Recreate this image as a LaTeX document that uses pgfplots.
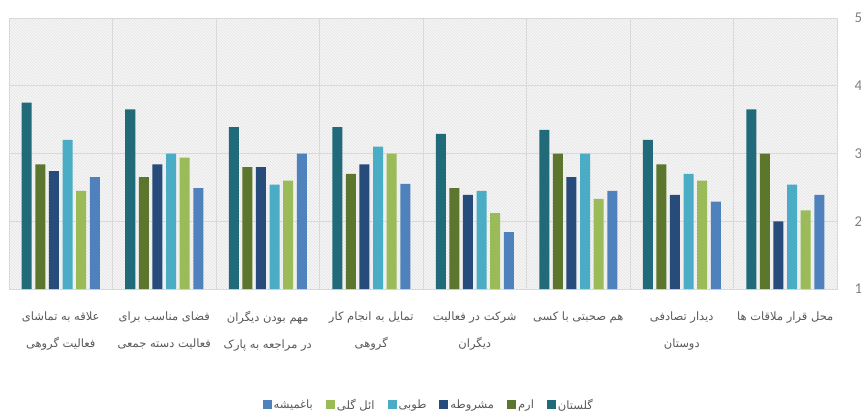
\documentclass[border=0pt]{standalone}
\usepackage{fontspec}
\setmainfont{Carlito}
\newfontfamily\arabicfont[Script=Arabic]{DejaVu Sans}
\TeXXeTstate=1
\usepackage{pgfplots}
\pgfplotsset{compat=1.18}
\usetikzlibrary{patterns}
\definecolor{cGol}{HTML}{216A7A}
\definecolor{cEram}{HTML}{5C772D}
\definecolor{cMash}{HTML}{274B7A}
\definecolor{cTuba}{HTML}{4BACC6}
\definecolor{cEl}{HTML}{9BBB59}
\definecolor{cBagh}{HTML}{4F81BD}
\definecolor{txt}{HTML}{595959}
\definecolor{gridc}{HTML}{D9D9D9}
\begin{document}
\begin{tikzpicture}
\begin{axis}[
  name=main,
  scale only axis, width=828pt, height=271pt,
  ymin=1, ymax=5, ytick={1,2,3,4,5},
  xmin=0.5, xmax=8.5,
  xtick={1,...,8},
  xticklabels={
    {{\arabicfont\beginR علاقه به تماشای\endR}\\{\arabicfont\beginR فعالیت گروهی\endR}},
    {{\arabicfont\beginR فضای مناسب برای\endR}\\{\arabicfont\beginR فعالیت دسته جمعی\endR}},
    {{\arabicfont\beginR مهم بودن دیگران\endR}\\{\arabicfont\beginR در مراجعه به پارک\endR}},
    {{\arabicfont\beginR تمایل به انجام کار\endR}\\{\arabicfont\beginR گروهی\endR}},
    {{\arabicfont\beginR شرکت در فعالیت\endR}\\{\arabicfont\beginR دیگران\endR}},
    {{\arabicfont\beginR هم صحبتی با کسی\endR}},
    {{\arabicfont\beginR دیدار تصادفی\endR}\\{\arabicfont\beginR دوستان\endR}},
    {{\arabicfont\beginR محل قرار ملاقات ها\endR}}
  },
  minor xtick={0.5,1.5,...,8.5},
  xminorgrids, ymajorgrids,
  grid style={gridc, line width=0.6pt},
  minor grid style={gridc, line width=0.6pt},
  major tick length=0pt, minor tick length=0pt,
  axis line style={gridc},
  yticklabel pos=right,
  /pgf/number format/assume math mode=true,
  yticklabel style={font=\fontsize{15}{15}\selectfont, text=gray, xshift=14pt},
  xticklabel style={align=center, font=\fontsize{11.5}{27}\selectfont, text=txt, yshift=-19pt},
  ybar=3.6pt, bar width=10pt,
  axis background/.style={fill=gray!7, postaction={pattern=north west lines, pattern color=gray!22}},
  reverse legend,
  legend columns=-1,
  legend style={at={(0.507,-0.428)}, anchor=center, draw=none, fill=none,
    font=\fontsize{11.5}{12}\selectfont, text=txt,
    /tikz/every even column/.append style={column sep=11pt}},
  legend image code/.code={\fill[#1] (0pt,-4pt) rectangle (9pt,5pt);},
]
\addplot[fill=cGol, draw=none] coordinates {(1,3.75) (2,3.65) (3,3.39) (4,3.39) (5,3.29) (6,3.35) (7,3.20) (8,3.65)};
\addplot[fill=cEram, draw=none] coordinates {(1,2.84) (2,2.65) (3,2.80) (4,2.70) (5,2.49) (6,3.00) (7,2.84) (8,3.00)};
\addplot[fill=cMash, draw=none] coordinates {(1,2.74) (2,2.84) (3,2.80) (4,2.84) (5,2.39) (6,2.65) (7,2.39) (8,2.00)};
\addplot[fill=cTuba, draw=none] coordinates {(1,3.20) (2,3.00) (3,2.54) (4,3.10) (5,2.45) (6,3.00) (7,2.70) (8,2.54)};
\addplot[fill=cEl, draw=none] coordinates {(1,2.45) (2,2.94) (3,2.60) (4,3.00) (5,2.12) (6,2.33) (7,2.60) (8,2.16)};
\addplot[fill=cBagh, draw=none] coordinates {(1,2.65) (2,2.49) (3,3.00) (4,2.55) (5,1.84) (6,2.45) (7,2.29) (8,2.39)};
\legend{{\arabicfont\beginR گلستان\endR},{\arabicfont\beginR ارم\endR},{\arabicfont\beginR مشروطه\endR},{\arabicfont\beginR طوبی\endR},{\arabicfont\beginR ائل گلی\endR},{\arabicfont\beginR باغمیشه\endR}}
\end{axis}
\pgfresetboundingbox
\useasboundingbox (main.south west) ++(-9pt,-127pt) rectangle ++(861pt,416pt);
\end{tikzpicture}
\end{document}
